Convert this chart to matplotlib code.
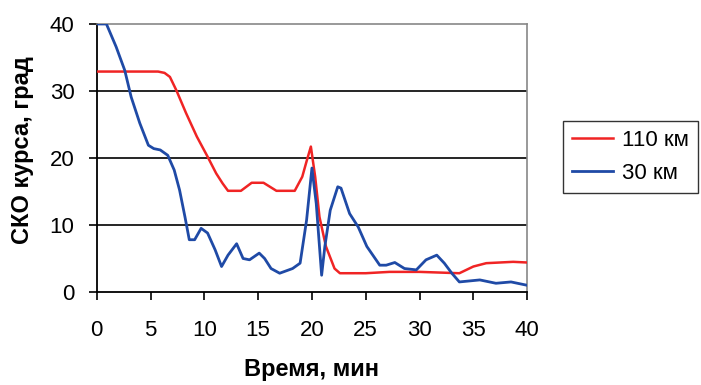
import numpy as np
import matplotlib
matplotlib.use("Agg")
import matplotlib.pyplot as plt

plt.rcParams['font.family'] = ['Liberation Sans', 'DejaVu Sans']

# СКО курса, 110 км
t_110 = [0, 5.7, 6.3, 6.8, 7.4, 8.3, 9.3, 10.3, 11.1, 11.7, 12.2, 13.4, 14.4,
         15.5, 16.7, 18.4, 19.1, 19.5, 19.9, 20.3, 20.7, 21.3, 22.1, 22.6,
         25.0, 27.2, 30.0, 33.7, 35.0, 36.2, 38.7, 40.0]
s_110 = [32.9, 32.9, 32.7, 32.1, 30.1, 26.7, 23.2, 20.2, 17.7, 16.2, 15.1, 15.1,
         16.3, 16.3, 15.1, 15.1, 17.2, 19.5, 21.7, 17.2, 11.2, 6.8, 3.5, 2.8,
         2.8, 3.0, 3.0, 2.8, 3.8, 4.3, 4.5, 4.4]

# СКО курса, 30 км
t_30 = [0, 0.9, 1.8, 2.6, 3.2, 4.0, 4.8, 5.3, 5.9, 6.6, 7.2, 7.7, 8.2, 8.6, 9.1,
        9.7, 10.3, 11.0, 11.6, 12.2, 13.0, 13.6, 14.2, 15.1, 15.6, 16.2, 17.0,
        18.2, 18.9, 19.5, 20.0, 20.4, 20.9, 21.2, 21.7, 22.4, 22.7, 23.5, 24.3,
        25.1, 26.3, 26.9, 27.7, 28.6, 29.7, 30.6, 31.6, 32.3, 33.0, 33.7, 35.6,
        37.1, 38.5, 40.0]
s_30 = [40.0, 40.0, 36.6, 33.1, 29.1, 25.2, 21.9, 21.4, 21.2, 20.4, 18.2, 15.2,
        11.2, 7.8, 7.8, 9.5, 8.8, 6.3, 3.8, 5.5, 7.2, 5.0, 4.8, 5.8, 5.0, 3.5,
        2.8, 3.5, 4.3, 10.7, 18.5, 13.2, 2.5, 6.8, 12.2, 15.7, 15.5, 11.7, 9.7,
        6.8, 4.0, 4.0, 4.4, 3.5, 3.3, 4.8, 5.5, 4.3, 2.8, 1.5, 1.8, 1.3, 1.5, 1.0]

fig = plt.figure(figsize=(7.01, 3.85), dpi=100)
ax = fig.add_axes([0.138, 0.2416, 0.614, 0.6961])

for yv in [10, 20, 30]:
    ax.axhline(yv, color='black', lw=1.2, zorder=1)

ax.plot(t_110, s_110, color='#f02424', lw=1.8, label='110 км', zorder=3)
ax.plot(t_30, s_30, color='#1f4aa6', lw=2.0, label='30 км', zorder=3)

ax.set_xlim(0, 40)
ax.set_ylim(0, 40)
ax.set_xticks(np.arange(0, 41, 5))
ax.set_yticks(np.arange(0, 41, 10))
ax.tick_params(direction='out', length=6, width=1.2, labelsize=16, color='black')
ax.tick_params(axis='x', pad=14)
ax.tick_params(axis='y', pad=10)

for side in ['left', 'bottom']:
    ax.spines[side].set_color('black')
    ax.spines[side].set_linewidth(1.3)
for side in ['top', 'right']:
    ax.spines[side].set_color('#888888')
    ax.spines[side].set_linewidth(1.2)

ax.set_xlabel('Время, мин', fontsize=17, fontweight='bold')
ax.set_ylabel('СКО курса, град', fontsize=17, fontweight='bold')
ax.xaxis.set_label_coords(0.5, -0.245)
ax.yaxis.set_label_coords(-0.146, 0.53)

leg = fig.legend(loc='upper left', bbox_to_anchor=(0.803, 0.686), fontsize=16,
                 frameon=True, fancybox=False, edgecolor='black',
                 handlelength=1.85, handletextpad=0.4, borderpad=0.4,
                 labelspacing=0.55, borderaxespad=0)
leg.get_frame().set_linewidth(1.0)

fig.savefig('out.png', dpi=100)
